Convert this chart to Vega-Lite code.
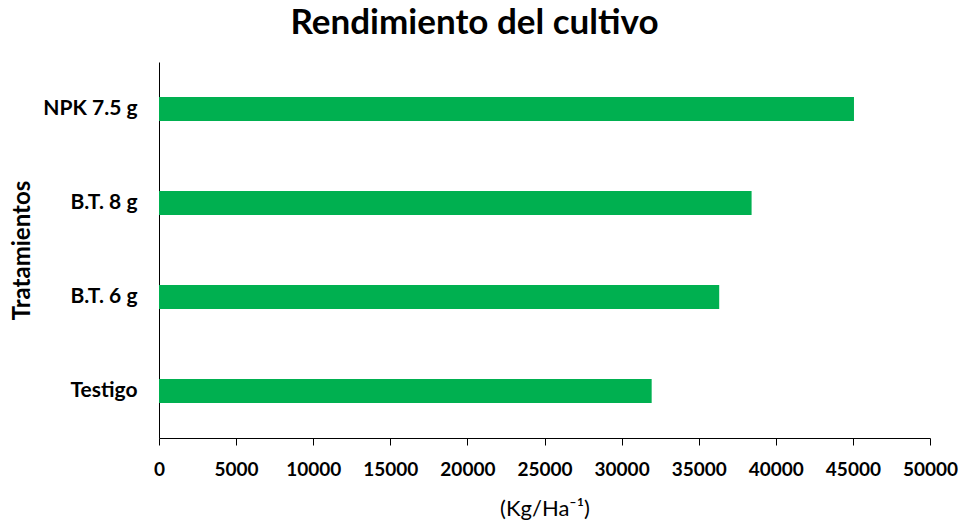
{
  "$schema": "https://vega.github.io/schema/vega-lite/v6.json",
  "width": 771,
  "height": 376,
  "autosize": {"type": "none"},
  "padding": {"left": 159, "top": 62, "right": 35, "bottom": 84},
  "background": "white",
  "config": {"view": {"stroke": null}, "font": "Lato"},
  "title": {
    "text": "Rendimiento del cultivo",
    "font": "Lato",
    "fontSize": 35,
    "fontWeight": "bold",
    "color": "black",
    "anchor": "middle",
    "dx": -70,
    "offset": 21
  },
  "data": {
    "values": [
      {"tratamiento": "NPK 7.5 g", "rendimiento": 45070},
      {"tratamiento": "B.T. 8 g", "rendimiento": 38430},
      {"tratamiento": "B.T. 6 g", "rendimiento": 36330},
      {"tratamiento": "Testigo", "rendimiento": 31950}
    ]
  },
  "mark": {"type": "bar", "color": "#00B050"},
  "encoding": {
    "y": {
      "field": "tratamiento",
      "type": "nominal",
      "sort": ["NPK 7.5 g", "B.T. 8 g", "B.T. 6 g", "Testigo"],
      "scale": {"paddingInner": 0.745, "paddingOuter": 0.3725},
      "axis": {
        "title": "Tratamientos",
        "titleFont": "Lato",
        "titleFontSize": 24,
        "titleFontWeight": "bold",
        "titleColor": "black",
        "titleAngle": -90,
        "titleAlign": "center",
        "titleBaseline": "middle",
        "titleX": -137,
        "titleY": 188,
        "labelFont": "Lato",
        "labelFontSize": 21,
        "labelFontWeight": "bold",
        "labelColor": "black",
        "labelPadding": 22,
        "ticks": false,
        "domainColor": "#000000",
        "domainWidth": 1
      }
    },
    "x": {
      "field": "rendimiento",
      "type": "quantitative",
      "scale": {"domain": [0, 50000], "nice": false},
      "axis": {
        "title": "(Kg/Ha\u207b\u00b9)",
        "titleFont": "Lato",
        "titleFontSize": 22,
        "titleFontWeight": "normal",
        "titleColor": "black",
        "titleBaseline": "middle",
        "titleY": 70,
        "values": [0, 5000, 10000, 15000, 20000, 25000, 30000, 35000, 40000, 45000, 50000],
        "format": "d",
        "labelFont": "Lato",
        "labelFontSize": 19,
        "labelFontWeight": "bold",
        "labelColor": "black",
        "labelBaseline": "middle",
        "labelPadding": 24,
        "labelFlush": false,
        "labelOverlap": false,
        "tickSize": 7,
        "tickColor": "#000000",
        "domainColor": "#000000",
        "grid": false
      }
    }
  }
}
